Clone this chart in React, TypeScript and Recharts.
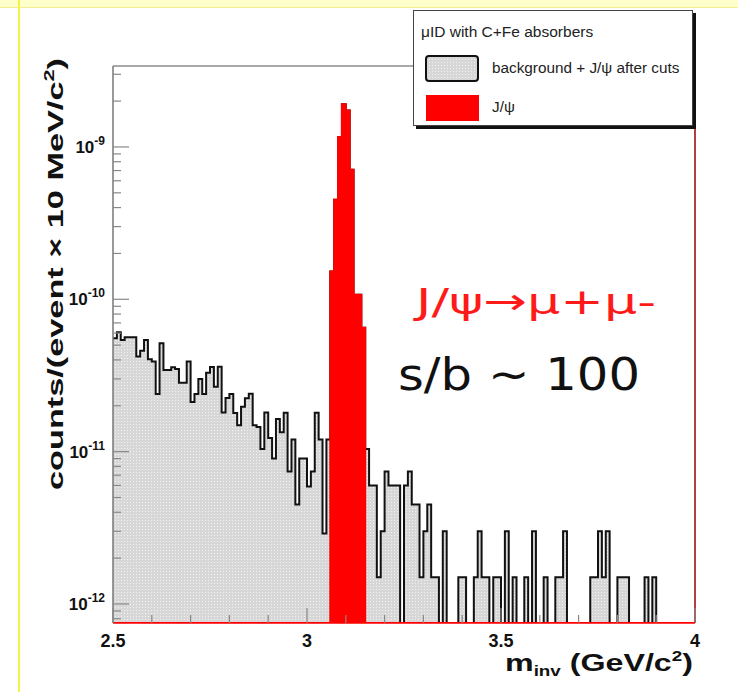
import React from "react";
import { ComposedChart, Area, XAxis, YAxis, ReferenceLine } from "recharts";

// 10 MeV bins from 2.5 to 4.0 GeV/c^2, bin contents in units of 1e-12
const X_MIN = 2.5;
const X_MAX = 4.0;
const BIN_W = 0.01;
const UNIT = 1e-12;
const Y_MIN = 7.5e-13;
const Y_MAX = 3.4e-9;

// "background + J/psi after cuts"
const BACKGROUND = [
  55.5, 60.8, 54.1, 56.4, 56.4, 56.4, 42.1, 46.0, 54.1, 40.4,
  39.0, 23.9, 51.5, 34.4, 34.4, 35.8, 34.9, 28.3, 28.3, 39.0,
  21.2, 23.9, 30.0, 23.9, 32.9, 36.0, 26.7, 36.1, 18.1, 22.5,
  23.9, 17.9, 14.9, 19.7, 22.4, 24.0, 14.9, 14.5, 10.4, 18.1,
  12.3, 9.0, 16.4, 13.4, 18.0, 7.4, 12.0, 4.5, 9.0, 9.0,
  5.9, 7.4, 18.0, 12.0, 2.9, 12.0, 152, 450, 1164, 1910,
  1738, 708, 107, 107, 65, 10.4, 6.0, 6.0, 1.5, 3.0,
  7.4, 6.0, 6.0, 6.0, 0, 6.0, 7.4, 4.5, 4.5, 1.5,
  3.0, 4.5, 1.5, 1.5, 0, 3.0, 0, 0, 0, 1.5,
  1.5, 0, 0, 1.5, 3.0, 1.5, 1.5, 0, 1.5, 1.5,
  0, 3.0, 0, 1.5, 0, 0, 1.5, 0, 3.0, 0,
  0, 1.5, 0, 0, 1.5, 1.5, 3.0, 0, 0, 0,
  0, 0, 0, 1.5, 1.5, 3.0, 1.5, 3.0, 0, 0,
  1.5, 1.5, 1.5, 0, 0, 0, 0, 1.5, 0, 1.5,
  0, 0, 0, 0, 0, 0, 0, 0, 0, 0,
];

// J/psi signal, only non-empty bins (first one is bin 56 = 3.06 GeV)
const JPSI_FIRST_BIN = 56;
const JPSI_PEAK = [152, 450, 1164, 1910, 1738, 708, 107, 107, 65];

const X_TICKS = [2.5, 2.6, 2.7, 2.8, 2.9, 3, 3.1, 3.2, 3.3, 3.4, 3.5, 3.6, 3.7, 3.8, 3.9, 4];
const X_LABELS = [2.5, 3, 3.5, 4];
const Y_TICKS = [
  8e-13, 9e-13,
  1e-12, 2e-12, 3e-12, 4e-12, 5e-12, 6e-12, 7e-12, 8e-12, 9e-12,
  1e-11, 2e-11, 3e-11, 4e-11, 5e-11, 6e-11, 7e-11, 8e-11, 9e-11,
  1e-10, 2e-10, 3e-10, 4e-10, 5e-10, 6e-10, 7e-10, 8e-10, 9e-10,
  1e-9, 2e-9, 3e-9,
];
const Y_LABELS = [1e-12, 1e-11, 1e-10, 1e-9];

const W = 738;
const H = 692;
const PLOT_LEFT = 113;
const PLOT_RIGHT = 695;
const PLOT_TOP = 66;
const PLOT_BOTTOM = 623;

const FONT = "'Liberation Sans', Arial, Helvetica, sans-serif";

const level = (v: number) => (v > 0 ? v * UNIT : Y_MIN);
const jpsiAt = (i: number) => {
  const k = i - JPSI_FIRST_BIN;
  return k >= 0 && k < JPSI_PEAK.length ? JPSI_PEAK[k] : 0;
};

// step areas need one extra point at the upper edge of the last bin
const rows = BACKGROUND.map((b, i) => ({
  x: +(X_MIN + i * BIN_W).toFixed(2),
  bg: level(b),
  jpsi: level(jpsiAt(i)),
}));
rows.push({ x: X_MAX, bg: level(BACKGROUND[BACKGROUND.length - 1]), jpsi: level(jpsiAt(BACKGROUND.length - 1)) });

function XTick(props: any) {
  const { x, payload } = props;
  const major = X_LABELS.includes(payload.value);
  return (
    <g>
      <line x1={x} x2={x} y1={PLOT_BOTTOM} y2={PLOT_BOTTOM - (major ? 15 : 8)} stroke="#888" strokeWidth={1.2} />
      {major && (
        <text x={x} y={PLOT_BOTTOM + 24} textAnchor="middle" fontSize={18} fontWeight="bold" fill="#111" fontFamily={FONT}>
          {payload.value}
        </text>
      )}
    </g>
  );
}

function YTick(props: any) {
  const { y, payload } = props;
  const v = payload.value;
  const exp = Math.round(Math.log10(v));
  const major = Y_LABELS.some((l) => Math.abs(l - v) < l * 1e-6);
  return (
    <g>
      <line x1={PLOT_LEFT} x2={PLOT_LEFT + (major ? 16 : 8)} y1={y} y2={y} stroke="#888" strokeWidth={1.2} />
      {major && (
        <text x={PLOT_LEFT - 8} y={y + 6} textAnchor="end" fontSize={17} fontWeight="bold" fill="#111" fontFamily={FONT}>
          10
          <tspan dy={-8} fontSize={12}>{String(exp)}</tspan>
        </text>
      )}
    </g>
  );
}

function DotPattern({ id }: { id: string }) {
  return (
    <pattern id={id} width={3} height={3} patternUnits="userSpaceOnUse">
      <rect width={3} height={3} fill="#d7d7d7" />
      <rect x={1} y={1} width={1} height={1} fill="#f2f2f2" />
    </pattern>
  );
}

export default function App() {
  return (
    <div style={{ position: "absolute", left: 0, top: 0, width: W, height: H, background: "#fff", overflow: "hidden", fontFamily: FONT }}>
      {/* slide decoration */}
      <div style={{ position: "absolute", left: 0, top: 0, width: W, height: 7, background: "#ffffcc" }} />
      <div style={{ position: "absolute", left: 0, top: 7, width: W, height: 1, background: "#f4ee90" }} />
      <div style={{ position: "absolute", left: 18, top: 0, width: 2, height: H, background: "#f6f24a" }} />

      <div style={{ position: "absolute", left: 0, top: 0 }}>
        <ComposedChart
          width={W}
          height={H}
          data={rows}
          margin={{ top: PLOT_TOP, right: W - PLOT_RIGHT, bottom: 0, left: 0 }}
        >
          <defs>
            <DotPattern id="bgDots" />
          </defs>
          <Area
            type="stepAfter"
            dataKey="bg"
            baseValue={Y_MIN}
            stroke="#111"
            strokeWidth={2}
            fill="url(#bgDots)"
            fillOpacity={1}
            dot={false}
            activeDot={false}
            isAnimationActive={false}
          />
          <Area
            type="stepAfter"
            dataKey="jpsi"
            baseValue={Y_MIN}
            stroke="#ff0000"
            strokeWidth={2}
            fill="#ff0000"
            fillOpacity={1}
            dot={false}
            activeDot={false}
            isAnimationActive={false}
          />
          <XAxis
            dataKey="x"
            type="number"
            domain={[X_MIN, X_MAX]}
            ticks={X_TICKS}
            interval={0}
            allowDataOverflow
            height={H - PLOT_BOTTOM}
            axisLine={{ stroke: "#ff0000", strokeWidth: 1.5 }}
            tickLine={false}
            tick={<XTick />}
          />
          <YAxis
            type="number"
            scale="log"
            domain={[Y_MIN, Y_MAX]}
            ticks={Y_TICKS}
            interval={0}
            allowDataOverflow
            width={PLOT_LEFT}
            axisLine={{ stroke: "#777", strokeWidth: 1.5 }}
            tickLine={false}
            tick={<YTick />}
          />
          <ReferenceLine y={Y_MAX} stroke="#555" strokeWidth={1.2} ifOverflow="visible" />
          <ReferenceLine x={X_MAX} stroke="#990000" strokeWidth={1.5} ifOverflow="visible" />
        </ComposedChart>
      </div>

      {/* axis titles and annotations */}
      <svg width={W} height={H} style={{ position: "absolute", left: 0, top: 0, pointerEvents: "none" }}>
        <text
          transform="translate(63, 490) rotate(-90)"
          fontSize={22}
          fontWeight="bold"
          fill="#111"
          fontFamily={FONT}
          textLength={432}
          lengthAdjust="spacingAndGlyphs"
        >
          counts/(event × 10 MeV/c
          <tspan dy={-9} fontSize={14}>2</tspan>
          <tspan dy={9}>)</tspan>
        </text>
        <text
          x={505}
          y={671}
          fontSize={24}
          fontWeight="bold"
          fill="#111"
          fontFamily={FONT}
          textLength={188}
          lengthAdjust="spacingAndGlyphs"
        >
          m<tspan dy={5} fontSize={14}>inv</tspan>
          <tspan dy={-5}> (GeV/c</tspan>
          <tspan dy={-10} fontSize={14}>2</tspan>
          <tspan dy={10}>)</tspan>
        </text>
        <text x={416} y={314} fontSize={36} fill="#ff1a1a" fontFamily="'DejaVu Sans', sans-serif" textLength={240} lengthAdjust="spacingAndGlyphs">
          J/ψ→μ+μ-
        </text>
        <text x={398} y={390} fontSize={44} fill="#111" fontFamily="'DejaVu Sans', sans-serif" textLength={242} lengthAdjust="spacingAndGlyphs">
          s/b ~ 100
        </text>
      </svg>

      {/* legend box */}
      <div
        style={{
          position: "absolute",
          left: 413,
          top: 10,
          width: 278,
          height: 114,
          border: "1px solid #444",
          background: "#fff",
          boxShadow: "3px 3px 0 #111",
        }}
      >
        <div style={{ position: "absolute", left: 7, top: 12, fontSize: 15.5, color: "#222" }}>μID with C+Fe absorbers</div>
        <svg width={54} height={27} style={{ position: "absolute", left: 11, top: 44 }}>
          <defs>
            <DotPattern id="legDots" />
          </defs>
          <rect x={1} y={1} width={52} height={25} rx={3} fill="url(#legDots)" stroke="#111" strokeWidth={2} />
        </svg>
        <div style={{ position: "absolute", left: 78, top: 48, fontSize: 15.3, color: "#222" }}>background + J/ψ after cuts</div>
        <div style={{ position: "absolute", left: 12, top: 84, width: 53, height: 26, background: "#ff0000" }} />
        <div style={{ position: "absolute", left: 78, top: 87, fontSize: 15.3, color: "#222" }}>J/ψ</div>
      </div>
    </div>
  );
}
